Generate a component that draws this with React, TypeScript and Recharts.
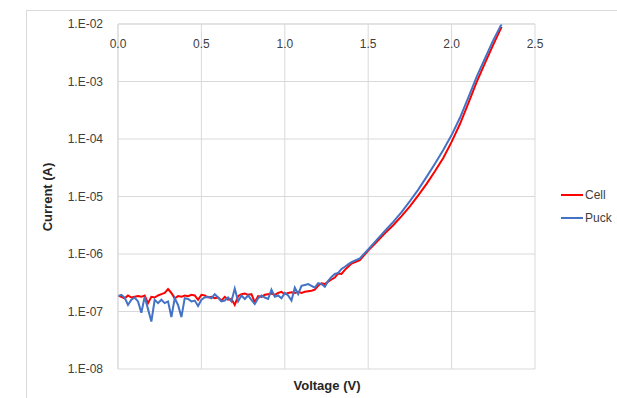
import React from "react";
import { LineChart, Line, XAxis, YAxis, CartesianGrid, Legend } from "recharts";

// bias voltage (V)
const voltage = [
  0.0, 0.02, 0.04, 0.06, 0.08, 0.1, 0.12, 0.14, 0.16, 0.18,
  0.2, 0.22, 0.24, 0.26, 0.28, 0.3, 0.32, 0.34, 0.36, 0.38,
  0.4, 0.42, 0.44, 0.46, 0.48, 0.5, 0.52, 0.54, 0.56, 0.58,
  0.6, 0.62, 0.64, 0.66, 0.68, 0.7, 0.72, 0.74, 0.76, 0.78,
  0.8, 0.82, 0.84, 0.86, 0.88, 0.9, 0.92, 0.94, 0.96, 0.98,
  1.0, 1.02, 1.04, 1.06, 1.08, 1.1, 1.12, 1.14, 1.16, 1.18,
  1.2, 1.22, 1.24, 1.26, 1.28, 1.3, 1.32, 1.34, 1.36, 1.38,
  1.4, 1.45, 1.5, 1.55, 1.6, 1.65, 1.7, 1.75, 1.8, 1.85,
  1.9, 1.95, 2.0, 2.05, 2.1, 2.15, 2.2, 2.25, 2.3,
];

// current (A)
const cell = [
  1.9e-7, 1.8e-7, 1.7e-7, 1.9e-7, 1.75e-7, 1.8e-7, 1.85e-7, 1.8e-7, 1.9e-7, 1.4e-7,
  1.8e-7, 1.75e-7, 1.9e-7, 2.0e-7, 2.1e-7, 2.45e-7, 2.1e-7, 1.7e-7, 1.85e-7, 1.8e-7,
  1.9e-7, 1.85e-7, 1.95e-7, 1.9e-7, 1.6e-7, 1.95e-7, 1.9e-7, 1.75e-7, 1.8e-7, 1.7e-7,
  1.75e-7, 1.55e-7, 1.8e-7, 1.6e-7, 1.65e-7, 1.3e-7, 1.85e-7, 2.0e-7, 2.05e-7, 1.95e-7,
  2.0e-7, 1.45e-7, 1.85e-7, 1.8e-7, 1.95e-7, 2.0e-7, 2.05e-7, 1.95e-7, 2.1e-7, 2.2e-7,
  2.0e-7, 2.1e-7, 2.15e-7, 2.1e-7, 2.2e-7, 2.1e-7, 2.2e-7, 2.25e-7, 2.3e-7, 2.4e-7,
  2.8e-7, 3.1e-7, 3.0e-7, 3.3e-7, 3.6e-7, 3.9e-7, 4.6e-7, 4.5e-7, 5.3e-7, 6.0e-7,
  6.8e-7, 7.8e-7, 1.15e-6, 1.62e-6, 2.29e-6, 3.16e-6, 4.57e-6, 6.76e-6, 1.05e-5, 1.66e-5,
  2.75e-5, 4.68e-5, 8.91e-5, 1.82e-4, 4.17e-4, 9.77e-4, 2.09e-3, 4.37e-3, 8.91e-3,
];

const puck = [
  1.85e-7, 1.95e-7, 1.75e-7, 1.3e-7, 1.6e-7, 1.75e-7, 1.5e-7, 0.95e-7, 1.8e-7, 1.1e-7,
  0.67e-7, 1.6e-7, 1.4e-7, 1.6e-7, 1.4e-7, 1.5e-7, 0.8e-7, 1.7e-7, 1.3e-7, 0.8e-7,
  1.7e-7, 1.65e-7, 1.5e-7, 1.55e-7, 1.25e-7, 1.6e-7, 1.75e-7, 1.8e-7, 1.7e-7, 2.0e-7,
  1.75e-7, 1.5e-7, 1.55e-7, 1.75e-7, 1.5e-7, 2.5e-7, 1.5e-7, 1.9e-7, 1.65e-7, 1.9e-7,
  1.6e-7, 1.35e-7, 1.7e-7, 1.9e-7, 1.75e-7, 1.65e-7, 2.4e-7, 1.8e-7, 1.9e-7, 1.7e-7,
  2.1e-7, 1.9e-7, 1.55e-7, 2.6e-7, 2.0e-7, 2.8e-7, 2.9e-7, 3.0e-7, 2.8e-7, 2.6e-7,
  3.1e-7, 3.0e-7, 2.7e-7, 3.4e-7, 4.0e-7, 4.5e-7, 4.7e-7, 5.5e-7, 6.0e-7, 6.6e-7,
  7.2e-7, 8.4e-7, 1.2e-6, 1.74e-6, 2.51e-6, 3.63e-6, 5.37e-6, 8.32e-6, 1.32e-5, 2.19e-5,
  3.72e-5, 6.46e-5, 1.17e-4, 2.34e-4, 5.25e-4, 1.2e-3, 2.51e-3, 5.25e-3, 1.0e-2,
];

const xTicks = [0, 0.5, 1.0, 1.5, 2.0, 2.5];
const yTicks = [1e-8, 1e-7, 1e-6, 1e-5, 1e-4, 1e-3, 1e-2];

const series = [
  { key: "cell", name: "Cell", color: "#FF0000" },
  { key: "puck", name: "Puck", color: "#4472C4" },
];

const rows = voltage.map((v, i) => ({ v, cell: cell[i], puck: puck[i] }));

const FONT = "'Liberation Sans', Arial, sans-serif";
const GRID = "#d9d9d9";
const TEXT = "#404040";
const PLOT_TOP = 24;

const fmtExp = (v: number) =>
  "1.E-" + String(Math.round(-Math.log10(v))).padStart(2, "0");

// Excel puts the category labels just under the top axis line
const XTick = (props: any) => {
  const { x, payload } = props;
  return (
    <text x={x} y={PLOT_TOP + 24} textAnchor="middle" fontFamily={FONT} fontSize={12} fill={TEXT}>
      {Number(payload.value).toFixed(1)}
    </text>
  );
};

const renderLegend = () => (
  <div style={{ fontFamily: FONT, fontSize: 12, color: TEXT }}>
    {series.map((s) => (
      <div key={s.key} style={{ display: "flex", alignItems: "center", height: 23 }}>
        <svg width={22} height={4} style={{ marginRight: 2 }}>
          <line x1={0} y1={2} x2={22} y2={2} stroke={s.color} strokeWidth={2} />
        </svg>
        <span>{s.name}</span>
      </div>
    ))}
  </div>
);

export default function App() {
  return (
    <div
      style={{
        position: "absolute",
        left: 0,
        top: 0,
        width: 617,
        height: 398,
        overflow: "hidden",
        background: "#fff",
      }}
    >
      <div
        style={{
          position: "absolute",
          left: 26,
          top: 10,
          width: 700,
          height: 500,
          border: `1px solid ${GRID}`,
        }}
      />
      <div style={{ position: "absolute", left: 0, top: 0 }}>
        <LineChart
          width={617}
          height={398}
          data={rows}
          margin={{ top: PLOT_TOP - 1, right: 82, bottom: 29, left: 30 }}
        >
          <CartesianGrid stroke={GRID} strokeWidth={1} />
          <XAxis
            dataKey="v"
            type="number"
            orientation="top"
            height={1}
            domain={[0, 2.5]}
            ticks={xTicks}
            tickLine={false}
            axisLine={{ stroke: GRID }}
            tick={XTick}
            label={{
              content: () => (
                <text
                  x={327}
                  y={385}
                  textAnchor="middle"
                  dominantBaseline="central"
                  fontFamily={FONT}
                  fontSize={13}
                  fontWeight="bold"
                  fill="#262626"
                >
                  Voltage (V)
                </text>
              ),
            }}
          />
          <YAxis
            type="number"
            scale="log"
            domain={[1e-8, 1e-2]}
            ticks={yTicks}
            allowDataOverflow
            width={88}
            tickLine={false}
            tickSize={6}
            tickMargin={9}
            axisLine={{ stroke: GRID }}
            tickFormatter={fmtExp}
            tick={{ fontFamily: FONT, fontSize: 12, fill: TEXT }}
            label={{
              content: () => (
                <text
                  transform="translate(47,197) rotate(-90)"
                  textAnchor="middle"
                  dominantBaseline="central"
                  fontFamily={FONT}
                  fontSize={13}
                  fontWeight="bold"
                  fill="#262626"
                >
                  Current (A)
                </text>
              ),
            }}
          />
          <Legend
            layout="vertical"
            verticalAlign="middle"
            align="center"
            wrapperStyle={{ left: 561, top: 183, width: 56 }}
            content={renderLegend}
          />
          {series.map((s) => (
            <Line
              key={s.key}
              dataKey={s.key}
              name={s.name}
              stroke={s.color}
              strokeWidth={2}
              dot={false}
              type="linear"
              isAnimationActive={false}
            />
          ))}
        </LineChart>
      </div>
    </div>
  );
}
